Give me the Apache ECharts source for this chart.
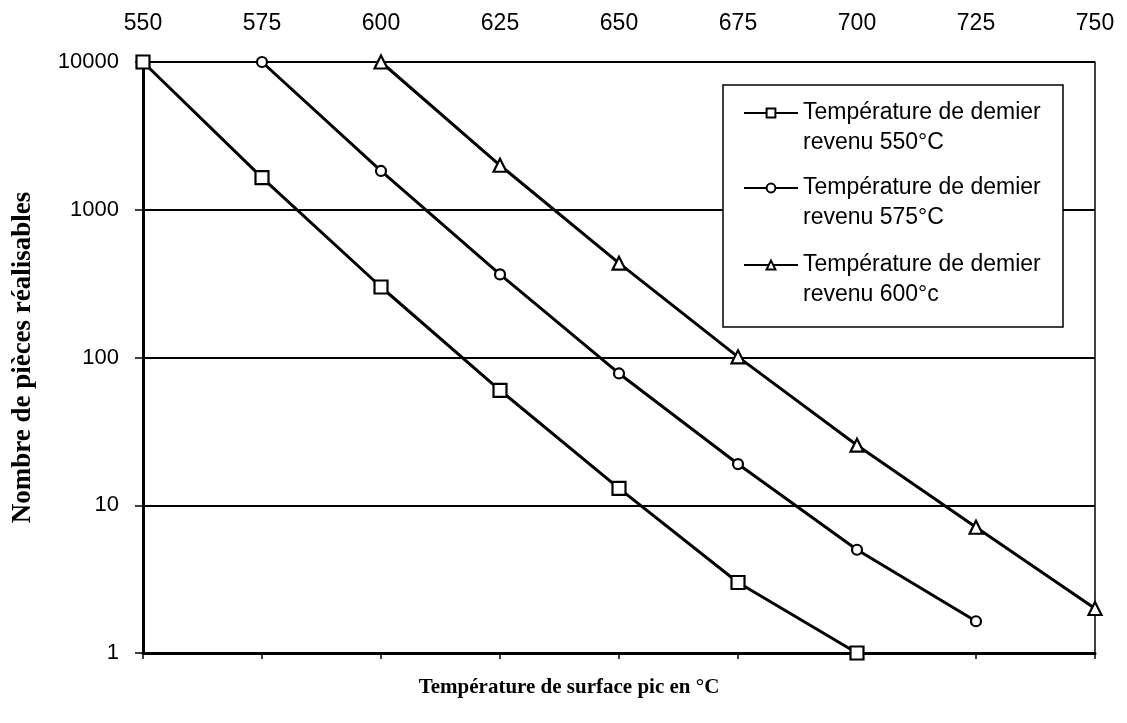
<!DOCTYPE html>
<html>
<head>
<meta charset="utf-8">
<script src="https://cdn.jsdelivr.net/npm/echarts@6/dist/echarts.min.js"></script>
<style>html,body{margin:0;padding:0;background:#fff}#c{width:1127px;height:723px}</style>
</head>
<body>
<div id="c"></div>
<script>
// ---- data ----
const temps = [550, 575, 600, 625, 650, 675, 700, 725, 750];
const xTickLabels = ['550', '575', '600', '625', '650', '675', '700', '725', '750'];
const yTickValues = [1, 10, 100, 1000, 10000];
const yTickLabels = ['1', '10', '100', '1000', '10000'];
const seriesNames = [
  'Température de demier revenu 550°C',
  'Température de demier revenu 575°C',
  'Température de demier revenu 600°c'
];
const rev550 = [10000, 1650, 300, 60, 13, 3, 1, null, null];
const rev575 = [null, 10000, 1830, 365, 78, 19, 5, 1.64, null];
const rev600 = [null, null, 10000, 2000, 435, 101, 25.5, 7.1, 2];
const xTitle = 'Température de surface pic en °C';
const yTitle = 'Nombre de pièces réalisables';

// ---- build ----
function pairs(vals) {
  const out = [];
  vals.forEach((v, i) => { if (v !== null) out.push([temps[i], v]); });
  return out;
}
const sans = '"Liberation Sans", Arial, sans-serif';
const serif = '"Liberation Serif", "Times New Roman", serif';
const symbols = ['rect', 'circle', 'triangle'];
const symSizes = [13, 10, 13];
const allVals = [rev550, rev575, rev600];

const series = allVals.map((vals, i) => ({
  name: seriesNames[i],
  type: 'line',
  data: pairs(vals),
  symbol: symbols[i],
  symbolSize: symSizes[i],
  showAllSymbol: true,
  lineStyle: { color: '#000', width: 3 },
  itemStyle: { color: '#fff', borderColor: '#000', borderWidth: 2.2 },
  emphasis: { disabled: true },
  animation: false,
  z: 3
}));

const legendTops = [68, 143, 220];
const legends = seriesNames.map((n, i) => ({
  data: [n],
  orient: 'vertical',
  left: 743,
  top: legendTops[i],
  padding: 0,
  z: 6,
  itemWidth: 54,
  itemHeight: 11,
  itemGap: 0,
  selectedMode: false,
  formatter: name => '\n' + name.replace(' revenu', '\nrevenu'),
  textStyle: {
    fontFamily: sans, fontSize: 23, color: '#000', lineHeight: 30
  }
}));

const chart = echarts.init(document.getElementById('c'), null, { renderer: 'canvas' });
chart.setOption({
  backgroundColor: '#fff',
  animation: false,
  grid: { left: 143, right: 32, top: 62, bottom: 70, containLabel: false },
  legend: legends,
  graphic: [{
    type: 'rect',
    z: 3,
    shape: { x: 723, y: 85, width: 340, height: 242 },
    style: { fill: '#fff', stroke: '#000', lineWidth: 1.5 }
  }],
  xAxis: [{
    type: 'value', min: 550, max: 750, interval: 25, position: 'bottom',
    axisLine: { lineStyle: { color: '#000', width: 3 } },
    axisTick: { show: true, length: 6, lineStyle: { color: '#000', width: 1.5 } },
    axisLabel: { show: false },
    splitLine: { show: false },
    name: xTitle, nameLocation: 'middle', nameGap: 24,
    nameTextStyle: { fontFamily: serif, fontWeight: 'bold', fontSize: 21, color: '#000', padding: [0, 100, 0, 0] }
  }, {
    type: 'value', min: 550, max: 750, interval: 25, position: 'top',
    axisLine: { show: false },
    axisTick: { show: false },
    splitLine: { show: false },
    axisLabel: {
      margin: 27, fontFamily: sans, fontSize: 23, color: '#000',
      formatter: v => xTickLabels[temps.indexOf(v)] || ''
    }
  }],
  yAxis: [{
    type: 'log', logBase: 10, min: 1, max: 10000, position: 'left',
    axisLine: { show: true, lineStyle: { color: '#000', width: 3 } },
    axisTick: { show: true, length: 8, lineStyle: { color: '#000', width: 1.5 } },
    splitLine: { show: true, lineStyle: { color: '#000', width: 1.8 } },
    axisLabel: {
      margin: 24, fontFamily: sans, fontSize: 22, color: '#000',
      formatter: v => { const i = yTickValues.findIndex(t => Math.abs(t - v) / t < 1e-6); return i >= 0 ? yTickLabels[i] : ''; }
    },
    name: yTitle, nameLocation: 'middle', nameGap: 106,
    nameTextStyle: { fontFamily: serif, fontWeight: 'bold', fontSize: 27, color: '#000' }
  }, {
    type: 'log', logBase: 10, min: 1, max: 10000, position: 'right',
    axisLine: { show: true, onZero: false, lineStyle: { color: '#000', width: 1.5 } },
    axisTick: { show: false }, axisLabel: { show: false }, splitLine: { show: false }
  }],
  series: series
});
</script>
</body>
</html>
